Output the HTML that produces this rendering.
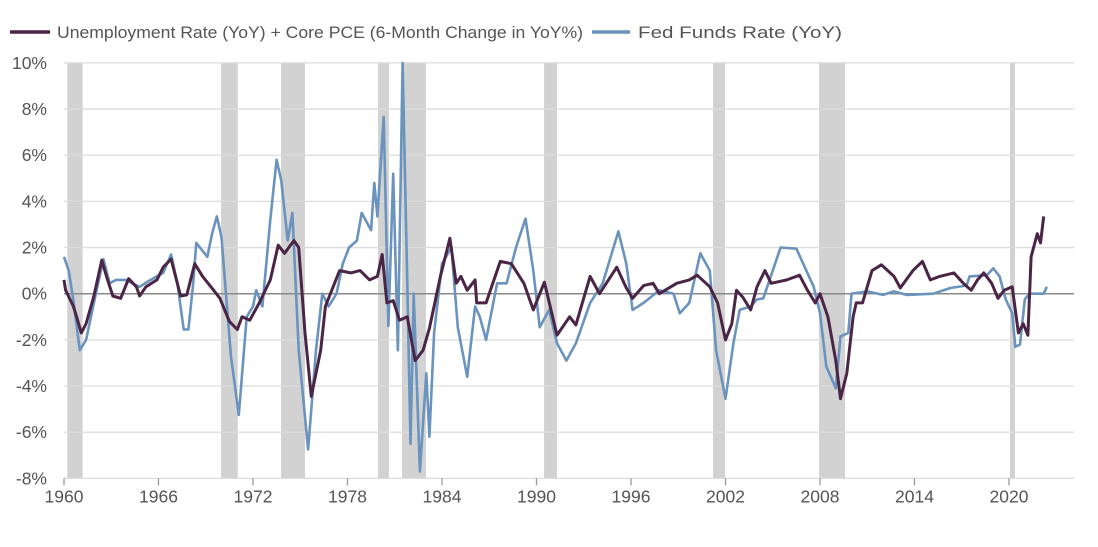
<!DOCTYPE html>
<html><head><meta charset="utf-8"><style>
body{margin:0;background:#fff;width:1098px;height:542px;overflow:hidden;font-family:"Liberation Sans",sans-serif}
svg text{font-family:"Liberation Sans",sans-serif}
</style></head><body>
<svg id="chart" width="1098" height="542" xmlns="http://www.w3.org/2000/svg">
<g id="legend">
<line x1="10" y1="32" x2="50" y2="32" stroke="#4a2545" stroke-width="3.5"/>
<text x="57" y="38" font-size="17" fill="#555" textLength="526" lengthAdjust="spacingAndGlyphs">Unemployment Rate (YoY) + Core PCE (6-Month Change in YoY%)</text>
<line x1="592" y1="32" x2="630" y2="32" stroke="#6a93bd" stroke-width="3.5"/>
<text x="638" y="38" font-size="17" fill="#555" textLength="204" lengthAdjust="spacingAndGlyphs">Fed Funds Rate (YoY)</text>
</g>
<g id="rec"></g>
<g id="grid"></g>
<g id="yax"></g>
<g id="xax"></g>
<g id="series"></g>
</svg>
<script>
const yTicks=[10,8,6,4,2,0,-2,-4,-6,-8];
const xTicks=[1960,1966,1972,1978,1984,1990,1996,2002,2008,2014,2020];
const recStart=[1960.21,1969.97,1973.78,1979.94,1981.46,1990.48,2001.21,2007.94,2020.06];
const recEnd=[1961.18,1971.03,1975.3,1980.63,1982.98,1991.3,2001.97,2009.59,2020.38];
const unempDates=[1960.0,1960.1,1960.6,1960.8,1961.1,1961.4,1961.9,1962.4,1962.7,1963.1,1963.6,1964.1,1964.6,1964.8,1965.2,1965.9,1966.3,1966.8,1967.4,1967.8,1968.3,1968.8,1969.5,1969.9,1970.5,1971.0,1971.3,1971.8,1972.4,1973.1,1973.6,1974.0,1974.6,1974.9,1975.3,1975.7,1976.3,1976.6,1977.0,1977.5,1978.2,1978.8,1979.4,1979.9,1980.2,1980.5,1980.9,1981.3,1981.8,1982.3,1982.8,1983.2,1983.9,1984.5,1984.9,1985.2,1985.6,1986.1,1986.2,1986.8,1987.7,1988.4,1989.2,1989.8,1990.5,1991.3,1992.1,1992.5,1993.4,1994.0,1995.1,1995.7,1996.1,1996.8,1997.4,1997.8,1998.9,1999.7,2000.2,2001.0,2001.5,2002.0,2002.4,2002.7,2003.1,2003.6,2004.0,2004.5,2004.9,2005.9,2006.7,2007.2,2007.7,2008.0,2008.5,2009.0,2009.3,2009.7,2010.1,2010.3,2010.7,2011.3,2011.9,2012.7,2013.1,2013.9,2014.5,2015.0,2015.6,2016.5,2017.1,2017.6,2018.0,2018.4,2018.9,2019.3,2019.7,2020.2,2020.6,2020.9,2021.2,2021.4,2021.8,2022.0,2022.2];
const unempValues=[0.6,0.15,-0.55,-1.0,-1.7,-1.3,-0.1,1.45,0.75,-0.1,-0.2,0.65,0.3,-0.1,0.3,0.6,1.15,1.5,-0.1,-0.05,1.3,0.75,0.15,-0.2,-1.2,-1.55,-1.0,-1.15,-0.4,0.6,2.1,1.75,2.3,2.0,-1.7,-4.45,-2.45,-0.55,0.15,1.0,0.9,1.0,0.6,0.75,1.7,-0.4,-0.3,-1.15,-1.0,-2.9,-2.45,-1.5,0.75,2.4,0.45,0.75,0.15,0.6,-0.4,-0.4,1.4,1.3,0.45,-0.7,0.5,-1.8,-1.0,-1.35,0.75,0.0,1.15,0.25,-0.2,0.35,0.45,0.0,0.45,0.6,0.8,0.3,-0.4,-2.0,-1.3,0.15,-0.15,-0.7,0.3,1.0,0.45,0.6,0.8,0.15,-0.4,0.0,-1.0,-2.9,-4.55,-3.45,-1.0,-0.4,-0.4,1.0,1.25,0.75,0.25,1.0,1.4,0.6,0.75,0.9,0.45,0.15,0.6,0.9,0.45,-0.2,0.15,0.3,-1.7,-1.3,-1.8,1.6,2.6,2.2,3.35];
const fedDates=[1960.0,1960.3,1960.6,1961.0,1961.4,1961.9,1962.5,1962.9,1963.3,1963.9,1964.8,1965.5,1966.3,1966.8,1967.2,1967.6,1967.9,1968.2,1968.4,1969.1,1969.4,1969.7,1970.0,1970.6,1971.1,1971.6,1972.0,1972.2,1972.6,1973.1,1973.5,1973.8,1974.2,1974.5,1974.9,1975.5,1976.0,1976.4,1976.8,1977.3,1977.7,1978.1,1978.6,1978.9,1979.5,1979.7,1979.9,1980.3,1980.6,1980.9,1981.2,1981.5,1981.8,1982.0,1982.2,1982.6,1983.0,1983.2,1983.5,1984.0,1984.6,1985.0,1985.6,1986.1,1986.4,1986.8,1987.5,1988.1,1988.7,1989.3,1989.8,1990.2,1990.8,1991.3,1991.9,1992.5,1993.4,1994.2,1995.2,1995.7,1996.1,1996.8,1997.8,1998.7,1999.1,1999.7,2000.4,2001.0,2001.4,2002.0,2002.5,2002.9,2003.6,2004.0,2004.4,2005.5,2006.5,2007.6,2008.0,2008.4,2009.0,2009.3,2009.8,2010.0,2011.0,2012.0,2012.7,2013.5,2015.2,2016.3,2017.3,2017.5,2018.6,2019.0,2019.4,2019.8,2020.2,2020.4,2020.7,2021.0,2021.3,2022.2,2022.4];
const fedValues=[1.6,1.0,-0.3,-2.45,-2.0,-0.4,1.5,0.45,0.6,0.6,0.3,0.6,0.9,1.7,0.45,-1.55,-1.55,0.45,2.2,1.6,2.6,3.35,2.45,-2.7,-5.25,-1.0,-0.55,0.15,-0.55,3.2,5.8,4.9,2.3,3.5,-2.45,-6.75,-2.45,0.0,-0.55,0.0,1.3,2.0,2.3,3.5,2.75,4.8,3.35,7.65,-1.4,5.2,-2.45,10.0,0.45,-6.5,0.0,-7.7,-3.45,-6.2,-1.7,1.3,2.0,-1.45,-3.6,-0.55,-1.0,-2.0,0.45,0.45,2.0,3.25,1.0,-1.45,-0.7,-2.15,-2.9,-2.15,-0.4,0.45,2.7,1.3,-0.7,-0.4,0.15,0.0,-0.85,-0.4,1.75,1.0,-2.45,-4.55,-2.15,-0.7,-0.55,-0.25,-0.2,2.0,1.95,0.3,-0.85,-3.15,-4.1,-1.85,-1.7,0.0,0.1,-0.05,0.1,-0.05,0.0,0.25,0.35,0.75,0.8,1.1,0.75,-0.25,-0.85,-2.3,-2.2,-0.25,0.0,0.0,0.3];

const NS='http://www.w3.org/2000/svg';
const X0=64,PXY=15.75,Y0=293.7,PXV=23.08;
function xs(y){return X0+(y-1960)*PXY;}
function ys(v){return Y0-v*PXV;}
const topY=ys(10),botY=ys(-8),rightX=1074;
function mk(tag,parent,attrs){const e=document.createElementNS(NS,tag);for(const k in attrs)e.setAttribute(k,attrs[k]);parent.appendChild(e);return e;}

const rec=document.getElementById('rec');
recStart.forEach((s,i)=>{
  const r=mk('rect',rec,{x:xs(s),y:topY,width:xs(recEnd[i])-xs(s),height:botY-topY,fill:'#d2d2d2'});
  
  
});
const grid=document.getElementById('grid'),yax=document.getElementById('yax');
yTicks.forEach(t=>{
  const l=mk('line',grid,{x1:X0,x2:rightX,y1:ys(t),y2:ys(t),stroke:t===0?'#8a8a8a':'#dcdcdc','stroke-width':t===0?1.5:1.3});
  
  
  const tx=mk('text',yax,{x:47,y:ys(t)+6,'text-anchor':'end','font-size':17.5,fill:'#555'});
  tx.textContent=t+'%';
  
  
});
const xax=document.getElementById('xax');
xTicks.forEach(t=>{
  const l=mk('line',xax,{x1:xs(t),x2:xs(t),y1:botY,y2:botY+7,stroke:'#999','stroke-width':1.3});
  
  
  const tx=mk('text',xax,{x:xs(t),y:botY+24,'text-anchor':'middle','font-size':17.5,fill:'#555'});
  tx.textContent=t;
  
  
});
const ser=document.getElementById('series');
function line(d,v,col,name,w){
  const p=mk('path',ser,{d:d.map((y,i)=>(i?'L':'M')+xs(y).toFixed(1)+','+ys(v[i]).toFixed(1)).join(''),fill:'none',stroke:col,'stroke-width':w,'stroke-linejoin':'round'});
  
  
}
line(fedDates,fedValues,'#6a93bd','fed-funds-line',2.6);
line(unempDates,unempValues,'#4a2545','unemployment-pce-line',3);
</script>
</body></html>
